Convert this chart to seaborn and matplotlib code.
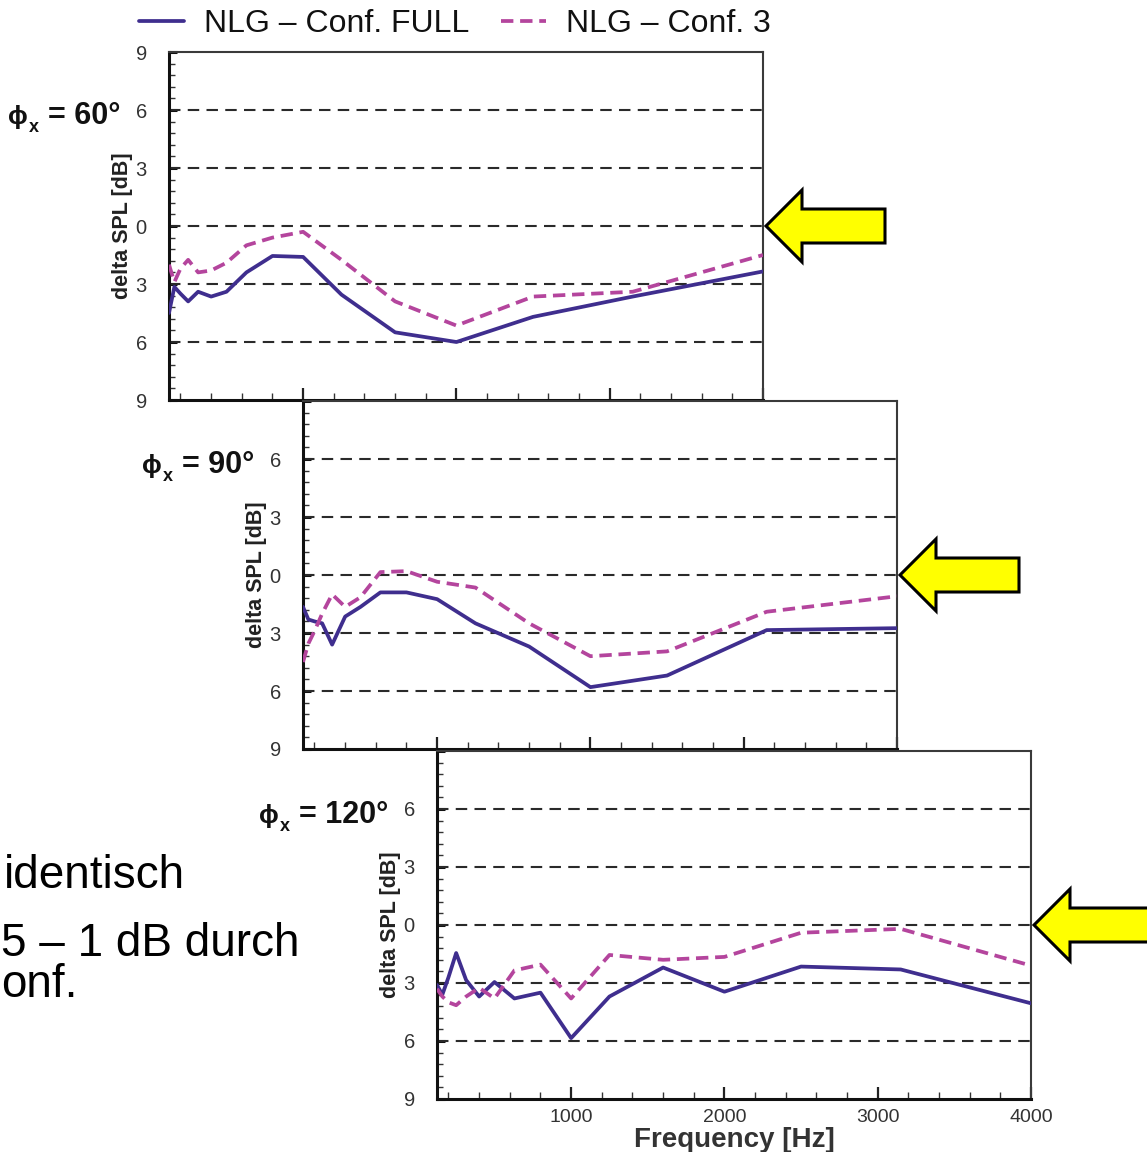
import matplotlib
matplotlib.use("Agg")
import matplotlib.pyplot as plt
import seaborn as sns
import pandas as pd
from matplotlib import font_manager as fm
from matplotlib.patches import Polygon
from matplotlib.transforms import IdentityTransform
from matplotlib.ticker import MultipleLocator, AutoMinorLocator, FuncFormatter, FixedLocator

# ---------------------------------------------------------------- data
freq = [125, 160, 200, 250, 315, 400, 500, 630, 800, 1000,
        1250, 1600, 2000, 2500, 3150, 4000]

full_60 = [-4.5, -3.15, -3.5, -3.9, -3.4, -3.65, -3.4, -2.4, -1.55, -1.6,
           -3.55, -5.5, -6.0, -4.7, -3.65, -2.35]
conf3_60 = [-2.0, -2.9, -2.2, -1.75, -2.4, -2.3, -1.9, -1.0, -0.6, -0.3,
            -1.75, -3.9, -5.15, -3.65, -3.4, -1.5]

full_90 = [-1.65, -2.3, -2.4, -2.5, -3.6, -2.15, -1.65, -0.9, -0.9, -1.25,
           -2.5, -3.7, -5.8, -5.2, -2.85, -2.75]
conf3_90 = [-4.5, -3.55, -2.9, -2.0, -1.0, -1.65, -1.15, 0.15, 0.2, -0.35,
            -0.65, -2.5, -4.2, -3.95, -1.9, -1.1]

full_120 = [-3.1, -3.6, -2.7, -1.45, -2.85, -3.7, -2.95, -3.8, -3.5, -5.85,
            -3.7, -2.2, -3.45, -2.15, -2.3, -4.05]
conf3_120 = [-3.3, -3.7, -4.0, -4.15, -3.7, -3.25, -3.8, -2.35, -2.05, -3.8,
             -1.55, -1.8, -1.65, -0.4, -0.2, -2.1]

panel_titles = ["= 60°", "= 90°", "= 120°"]
series_labels = ["NLG – Conf. FULL", "NLG – Conf. 3"]
y_ticks = [-9, -6, -3, 0, 3, 6, 9]
grid_levels = [-6, -3, 0, 3, 6]
x_ticks = [1000, 2000, 3000, 4000]

# ---------------------------------------------------------------- style
sns.set_theme(style="white")
plt.rcParams["font.family"] = ["Liberation Sans", "DejaVu Sans"]

C_FULL = "#3f2e8e"
C_CONF3 = "#b4459d"
W, H = 1147, 1152

fig = plt.figure(figsize=(W / 100, H / 100), dpi=100)
fig.patch.set_facecolor("white")


def box(left, top, right, bottom):
    return [left / W, 1 - bottom / H, (right - left) / W, (bottom - top) / H]


def abs_label(hide_top):
    def fmt(v, pos):
        if hide_top and v >= 9:
            return ""
        return f"{abs(v):g}"
    return FuncFormatter(fmt)


boxes = [box(169, 52, 763, 400), box(303, 401, 897, 749), box(437, 751, 1031, 1099)]
data = [(full_60, conf3_60), (full_90, conf3_90), (full_120, conf3_120)]

axes = []
title_texts = []
for i, (bx, (full, conf3)) in enumerate(zip(boxes, data)):
    ax = fig.add_axes(bx)
    ax.set_facecolor("white")
    df = pd.DataFrame({"freq": freq, "full": full, "conf3": conf3})

    for lvl in grid_levels:
        ax.axhline(lvl, color="#2a2a2a", lw=1.5, linestyle=(0, (5.5, 3.5)), zorder=1)

    sns.lineplot(data=df, x="freq", y="full", ax=ax, color=C_FULL, lw=2.7,
                 label=series_labels[0], zorder=3)
    sns.lineplot(data=df, x="freq", y="conf3", ax=ax, color=C_CONF3, lw=2.7,
                 linestyle=(0, (3.3, 1.8)), label=series_labels[1], zorder=3)
    if ax.get_legend() is not None:
        ax.get_legend().remove()

    ax.set_xlim(125, 4000)
    ax.set_ylim(-9, 9)
    ax.yaxis.set_major_locator(FixedLocator(y_ticks))
    ax.yaxis.set_minor_locator(AutoMinorLocator(5))
    ax.yaxis.set_major_formatter(abs_label(i > 0))
    ax.xaxis.set_major_locator(FixedLocator(x_ticks))
    ax.xaxis.set_minor_locator(MultipleLocator(200))

    ax.tick_params(axis="y", which="major", direction="in", length=6, width=2.2,
                   color="#111111", labelsize=14.5, labelcolor="#333333", pad=16,
                   left=True, right=False)
    ax.tick_params(axis="y", which="minor", direction="in", length=4, width=1.0,
                   color="#333333", left=True, right=False)
    ax.tick_params(axis="x", which="major", direction="in", length=9, width=1.6,
                   color="#222222", labelsize=14, labelcolor="#333333", pad=7,
                   bottom=True, top=False)
    ax.tick_params(axis="x", which="minor", direction="in", length=5, width=1.0,
                   color="#333333", bottom=True, top=False)
    if i < 2:
        ax.tick_params(axis="x", which="major", labelbottom=False)

    for side in ["left", "bottom"]:
        ax.spines[side].set_color("#111111")
        ax.spines[side].set_linewidth(2.2)
    for side in ["top", "right"]:
        ax.spines[side].set_color("#3a3a3a")
        ax.spines[side].set_linewidth(1.5)

    ax.set_ylabel("delta SPL [dB]", fontsize=15.5, fontweight="bold",
                  color="#222222", va="center")
    ax.yaxis.set_label_coords(-0.079, 0.5)
    if i == 2:
        ax.set_xlabel("Frequency [Hz]", fontsize=20, fontweight="bold",
                      color="#333333", va="baseline")
        ax.xaxis.set_label_coords(0.5, -0.137)
    else:
        ax.set_xlabel("")

    # angle value, right-aligned left of the axis at the 6 dB level
    t = ax.annotate(panel_titles[i], xy=(125, 6), xytext=(-49, -14),
                    textcoords="offset pixels", ha="right", va="baseline",
                    fontsize=22, fontweight="bold", color="#111111",
                    annotation_clip=False)
    title_texts.append(t)
    axes.append(ax)

# legend on top
try:
    fm.findfont(fm.FontProperties(family="Liberation Sans Narrow"),
                fallback_to_default=False)
    leg_family, leg_size = "Liberation Sans Narrow", 28
except Exception:
    leg_family, leg_size = "Liberation Sans", 23
em_px = leg_size * 100 / 72
handles, labels = axes[0].get_legend_handles_labels()
fig.legend(handles, labels, loc="center", bbox_to_anchor=(455 / W, 1 - 24 / H),
           ncol=2, frameon=False, prop={"family": leg_family, "size": leg_size},
           labelcolor="#111111", handlelength=45 / em_px,
           handletextpad=20 / em_px, columnspacing=32 / em_px, borderpad=0.2)

fig.canvas.draw()
renderer = fig.canvas.get_renderer()

# ϕ with subscript x, placed left of each angle value
for t in title_texts:
    bb = t.get_window_extent(renderer)
    x_left = bb.x0
    ax_ = t.axes
    _, y6 = ax_.transData.transform((125, 6))
    y_base = y6 - 14
    sub = ax_.annotate("x", xy=(x_left - 9, y_base - 8), xycoords="figure pixels",
                       ha="right", va="baseline", fontsize=13, fontweight="bold",
                       color="#111111", annotation_clip=False)
    sbb = sub.get_window_extent(renderer)
    ax_.annotate("ϕ", xy=(x_left - 9 - sbb.width - 1, y_base),
                 xycoords="figure pixels", ha="right", va="baseline",
                 fontsize=19, fontweight="bold", color="#111111",
                 annotation_clip=False)

# yellow arrows pointing at the 0 dB line
for ax in axes:
    tx, ty = ax.transData.transform((4000, 0))
    tx += 3
    shape = [(0, 0), (36, 36), (36, 17), (119, 17), (119, -17), (36, -17), (36, -36)]
    pts = [(tx + dx, ty + dy) for dx, dy in shape]
    fig.patches.append(Polygon(pts, closed=True, facecolor="#ffff00",
                               edgecolor="black", lw=2.2, joinstyle="miter",
                               transform=IdentityTransform(), figure=fig))

# slide text beside the charts
fig.text(185 / W, 1 - 888 / H, "identisch", ha="right", va="baseline",
         fontsize=33, color="black")
fig.text(1 / W, 1 - 997 / H, "5 – 1 dB durch\nonf.", ha="left", va="baseline",
         multialignment="left", linespacing=0.9, fontsize=33, color="black")

fig.savefig("out.png", dpi=100, facecolor="white")
